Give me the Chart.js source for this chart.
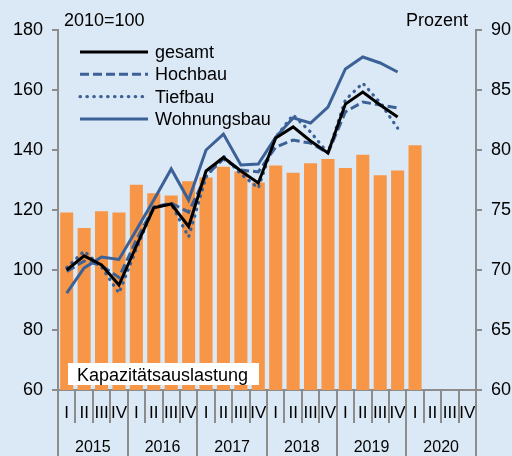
<!DOCTYPE html>
<html>
<head>
<meta charset="utf-8">
<script src="https://cdn.jsdelivr.net/npm/chart.js@4"></script>
<style>
  html, body { margin: 0; padding: 0; background: #dbe8f5; }
  #wrap { width: 512px; height: 456px; }
</style>
</head>
<body>
<div id="wrap"><canvas id="chart" width="512" height="456"></canvas></div>
<script>
// Quartale 2015 I bis 2020 IV
const quarters = ["I","II","III","IV","I","II","III","IV","I","II","III","IV",
                  "I","II","III","IV","I","II","III","IV","I","II","III","IV"];
const years = ["2015","2016","2017","2018","2019","2020"];

// Kapazitätsauslastung (Prozent, rechte Achse)
const auslastung = [74.8,73.5,74.9,74.8, 77.1,76.4,76.2,77.4, 77.7,78.6,78.2,77.3,
                    78.7,78.1,78.9,79.25, 78.5,79.6,77.9,78.3, 80.4,null,null,null];

// Indizes 2010=100 (linke Achse)
const gesamt      = [100,104.7,101.7,95, 108,120.7,122,114.5, 133,137.5,133,129,
                     144,147.7,143,139, 155.3,159.3,155,151];
const hochbau     = [99.5,103,101.5,97.5, 110,121,122.3,119.3, 131.5,137,133.3,132.7,
                     141,143.3,142.3,139, 152.7,156,155,154];
const tiefbau     = [100.8,106.3,101,92.3, 107,121,122,111, 131,138,132,127.3,
                     144.3,151.7,146,139, 156.7,162.3,155.7,147.3];
const wohnungsbau = [92.3,100.7,104.3,103.5, 113.3,123.3,133.7,123.3, 140,145.3,135,135.3,
                     144.3,150.7,149,154.3, 167,171,169,166];

const FONT = "'Liberation Sans', Arial, sans-serif";
const AXIS = "#8c8c8c";
const BLUE = "#3b6197";

// Texte, Legende und Jahresachse
const deco = {
  id: "deco",
  afterDraw(chart) {
    const ctx = chart.ctx;
    const area = chart.chartArea;
    const x = chart.scales.x;
    ctx.save();
    ctx.fillStyle = "#000";
    ctx.font = "18px " + FONT;
    ctx.textBaseline = "alphabetic";
    ctx.textAlign = "left";
    ctx.fillText("2010=100", area.left + 6, area.top - 4);
    ctx.textAlign = "right";
    ctx.fillText("Prozent", area.right - 8, area.top - 4);

    // Legende (nur Linien)
    const lines = chart.data.datasets.filter(d => d.type === "line");
    lines.sort((a, b) => a.legendIndex - b.legendIndex);
    lines.forEach((d, i) => {
      const y = area.top + 22 + i * 22.3;
      ctx.beginPath();
      ctx.strokeStyle = d.borderColor;
      ctx.lineWidth = d.borderWidth;
      ctx.setLineDash(d.borderDash || []);
      ctx.lineCap = d.borderCapStyle || "butt";
      ctx.moveTo(area.left + 22, y);
      ctx.lineTo(area.left + 90, y);
      ctx.stroke();
      ctx.setLineDash([]);
      ctx.fillStyle = "#000";
      ctx.textAlign = "left";
      ctx.textBaseline = "middle";
      ctx.fillText(d.label, area.left + 97, y + 1);
    });

    // Kasten Kapazitätsauslastung
    ctx.fillStyle = "#fff";
    ctx.fillRect(area.left + 10, area.bottom - 27, 191, 22);
    ctx.fillStyle = "#000";
    ctx.textAlign = "left";
    ctx.textBaseline = "alphabetic";
    ctx.fillText("Kapazitätsauslastung", area.left + 19, area.bottom - 9);

    // Jahrestrenner und Jahreszahlen
    ctx.strokeStyle = AXIS;
    ctx.lineWidth = 2;
    for (let k = 0; k <= years.length; k++) {
      const px = Math.round(x.getPixelForValue(4 * k - 0.5));
      ctx.beginPath();
      ctx.moveTo(px, area.bottom);
      ctx.lineTo(px, chart.height);
      ctx.stroke();
    }
    ctx.fillStyle = "#000";
    ctx.font = "16px " + FONT;
    ctx.textAlign = "center";
    ctx.textBaseline = "middle";
    years.forEach((yr, k) => {
      ctx.fillText(yr, x.getPixelForValue(4 * k + 1.5), area.bottom + 58);
    });
    ctx.restore();
  }
};

new Chart(document.getElementById("chart"), {
  data: {
    labels: quarters,
    datasets: [
      { type: "line", label: "gesamt", legendIndex: 0, data: gesamt, yAxisID: "y",
        borderColor: "#000", borderWidth: 3, pointRadius: 0, tension: 0, order: 0 },
      { type: "line", label: "Hochbau", legendIndex: 1, data: hochbau, yAxisID: "y",
        borderColor: BLUE, borderWidth: 3, borderDash: [9, 4], pointRadius: 0, tension: 0, order: 2 },
      { type: "line", label: "Tiefbau", legendIndex: 2, data: tiefbau, yAxisID: "y",
        borderColor: BLUE, borderWidth: 3.2, borderDash: [0.5, 6.4], borderCapStyle: "round",
        pointRadius: 0, tension: 0, order: 1 },
      { type: "line", label: "Wohnungsbau", legendIndex: 3, data: wohnungsbau, yAxisID: "y",
        borderColor: BLUE, borderWidth: 3, pointRadius: 0, tension: 0, order: 3 },
      { type: "bar", label: "Kapazitätsauslastung", data: auslastung, yAxisID: "y2",
        backgroundColor: "#f79646", barPercentage: 0.75, categoryPercentage: 1, order: 10 }
    ]
  },
  options: {
    responsive: false,
    animation: false,
    layout: { padding: { top: 30, left: 0, right: 0, bottom: 0 } },
    plugins: { legend: { display: false }, tooltip: { enabled: false } },
    scales: {
      x: {
        offset: true,
        grid: { offset: true, drawOnChartArea: false, tickLength: 33, color: AXIS, lineWidth: 2 },
        border: { color: AXIS, width: 2 },
        ticks: { padding: -20, color: "#000", font: { family: FONT, size: 17 },
                 maxRotation: 0, autoSkip: false },
        afterFit: s => { s.height = 66; }
      },
      y: {
        position: "left", min: 60, max: 180,
        ticks: { stepSize: 20, padding: 9, color: "#000", font: { family: FONT, size: 18 } },
        grid: { drawOnChartArea: false, tickLength: 6, color: AXIS, lineWidth: 2 },
        border: { color: AXIS, width: 2 },
        afterFit: s => { s.width = 58; }
      },
      y2: {
        position: "right", min: 60, max: 90,
        ticks: { stepSize: 5, padding: 9, color: "#000", font: { family: FONT, size: 18 } },
        grid: { drawOnChartArea: false, tickLength: 6, color: AXIS, lineWidth: 2 },
        border: { color: AXIS, width: 2 },
        afterFit: s => { s.width = 36; }
      }
    }
  },
  plugins: [deco]
});
</script>
</body>
</html>
